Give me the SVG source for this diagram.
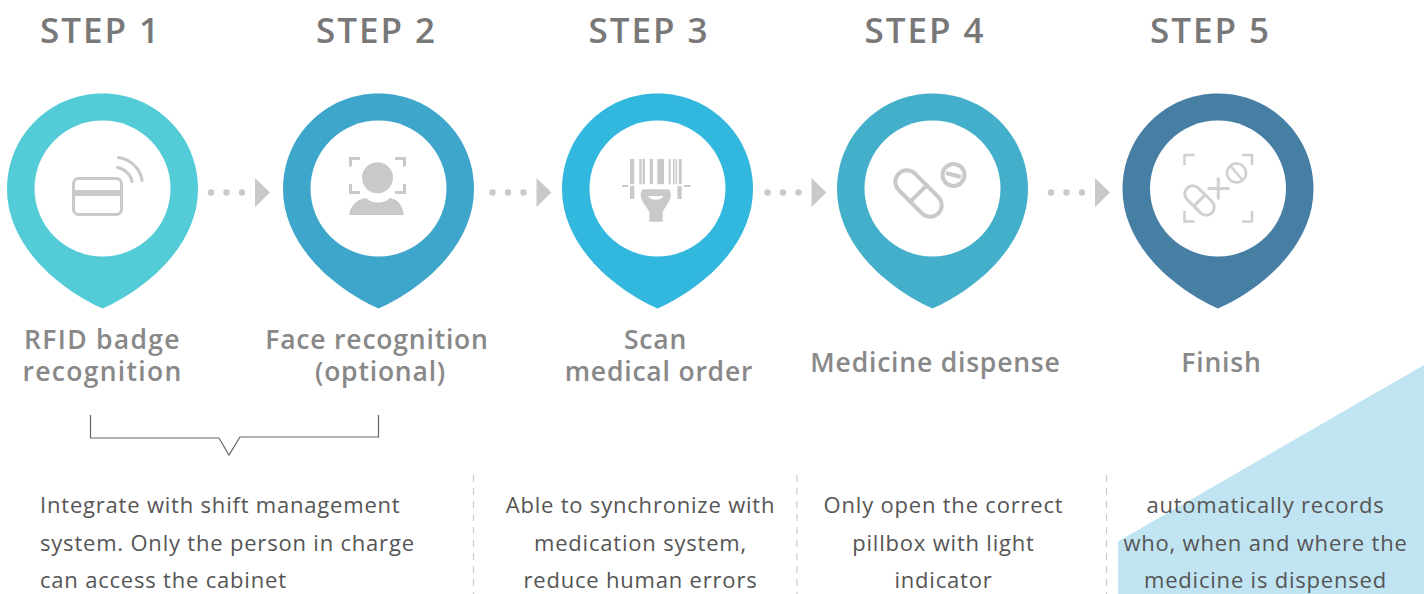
<svg xmlns="http://www.w3.org/2000/svg" width="1424" height="594" viewBox="0 0 1424 594">
<style>
text{font-family:"Open Sans","Noto Sans","Liberation Sans",sans-serif}
.step{font-size:35px;font-weight:600;fill:#787878;letter-spacing:2px;text-anchor:middle}
.lbl{font-size:26.500px;font-weight:600;fill:#888;letter-spacing:.8px;text-anchor:middle}
.wide{letter-spacing:1.300px}
.d{font-size:22px;fill:#555;letter-spacing:.8px}
.m{text-anchor:middle}
.ic{fill:none;stroke:#c9c9c9;stroke-width:3.500}
.w3{stroke-width:3px}
.w4{stroke-width:4px}
.w25{stroke-width:2.500px}
.lt{stroke:#d0d0d0}
.f{fill:#c9c9c9}
.dash{stroke:#ccc;stroke-width:1.200;stroke-dasharray:7 6;fill:none}
</style>
<defs>
<path id="pin" d="M0,-95.500C53,-95.500 95.500,-53 95.500,0C95.500,60 38,103 0,119.500C-38,103 -95.500,60 -95.500,0C-95.500,-53 -53,-95.500 0,-95.500Z"/>
<g id="arrow"><circle cx="0" cy="0" r="3.200"/><circle cx="15.500" cy="0" r="3.200"/><circle cx="31" cy="0" r="3.200"/><path d="M44,-14.500L59,0L44,14.500Z"/></g>
</defs>
<path id="backdrop" d="M1118,541.500L1424,365V594H1118Z" fill="#c1e4f2"/>
<g id="step1">
<text class="step" x="100.500" y="43">STEP 1</text>
<use href="#pin" x="102.500" y="189" fill="#53ccd8"/><circle cx="102.500" cy="188.500" r="68" fill="#fff"/>
<rect class="ic w3" x="73.500" y="178.500" width="48" height="36" rx="5"/><rect class="f" x="72" y="190" width="50" height="6"/>
<path class="ic w3" d="M117.500,167.500C125,169 131,175 132,181.500M118.500,157.500C131,159.500 140.500,169 142,180.500" stroke-linecap="round"/>
<text class="lbl wide" x="102.500" y="349">RFID badge</text><text class="lbl wide" x="102.500" y="381">recognition</text>
</g>
<g id="step2">
<text class="step" x="376.500" y="43">STEP 2</text>
<use href="#pin" x="378.500" y="189" fill="#3ea6ca"/><circle cx="378.500" cy="188.500" r="68" fill="#fff"/>
<path class="ic w3" d="M360,158.500H350.500V166.500M395,158.500H404.500V166.500M350.500,184V192.500H360M404.500,184V192.500H395"/>
<circle class="f" cx="377.500" cy="177.700" r="15.500"/>
<path class="f" d="M349.300,215C350,206 357,199 366,198C372,204 384,204 390,198C398,199 403,206 403.800,215Z"/>
<text class="lbl" x="377" y="349">Face recognition</text><text class="lbl" x="380.500" y="381">(optional)</text>
</g>
<g id="step3">
<text class="step" x="649" y="43">STEP 3</text>
<use href="#pin" x="657.500" y="189" fill="#32b7de"/><circle cx="657.500" cy="188.500" r="68" fill="#fff"/>
<path class="f" d="M630,159h4.300v25.300H630ZM639.300,159h2.200v25.300h-2.200ZM642.500,159h2.500v25.300h-2.500ZM649.700,159h3.300v25.300h-3.300ZM657.300,159h6.700v25.300h-6.700ZM668.700,159h2v25.300h-2ZM673,159h1.500v25.300H673ZM675.500,159h1.500v25.300h-1.500ZM678.700,159h3v25.300h-3ZM622,185h6v2h-6ZM684,185h6.500v2H684ZM630,186h4.300v13H630ZM677.400,186h4.300v13h-4.300Z"/>
<path class="f" d="M644,189.300C641.500,189.300 640.700,192 640.700,195C640.700,201 647,207 649.300,212V221.700H662.700V212C665,207 670.700,201 670.700,195C670.700,192 670,189.300 667.500,189.300Z"/>
<path d="M648,196H663.500C661,201 650.500,201 648,196Z" fill="#fff"/>
<text class="lbl" x="655.500" y="349">Scan</text><text class="lbl" x="659" y="381">medical order</text>
</g>
<g id="step4">
<text class="step" x="925" y="43">STEP 4</text>
<use href="#pin" x="932.500" y="189" fill="#44afca"/><circle cx="932.500" cy="188.500" r="68" fill="#fff"/>
<g transform="translate(918.500,193.500) rotate(45)"><rect class="ic w4" x="-28" y="-11.500" width="56" height="23" rx="11.500"/><path class="ic w4" d="M0,-11.500V11.500"/></g>
<circle class="ic w4" cx="953.500" cy="175" r="11"/><path class="ic w4" d="M946,173L961,177"/>
<text class="lbl" x="935.500" y="372">Medicine dispense</text>
</g>
<g id="step5">
<text class="step" x="1210.500" y="43">STEP 5</text>
<use href="#pin" x="1218" y="189" fill="#467ea4"/><circle cx="1218" cy="188.500" r="68" fill="#fff"/>
<path class="ic w25 lt" d="M1194.500,155H1184.500V165M1242,155H1252V165M1184.500,211V221.500H1194.500M1252,211V221.500H1242"/>
<g transform="translate(1199.500,200.500) rotate(45)"><rect class="ic w3 lt" x="-17.500" y="-8" width="35" height="16" rx="8"/><path class="ic w3 lt" d="M0,-8V8"/></g>
<path class="ic w3 lt" d="M1207.500,188.500H1229.500M1218.300,177.500V199.500"/>
<circle class="ic w25 lt" cx="1236.500" cy="173" r="9.500"/><path class="ic w25 lt" d="M1231,166.500L1242,179.500"/>
<text class="lbl" x="1221.500" y="372">Finish</text>
</g>
<g id="connectors" fill="#c9c9c9">
<use href="#arrow" x="211" y="192.500"/><use href="#arrow" x="492.500" y="192.500"/><use href="#arrow" x="767.500" y="192.500"/><use href="#arrow" x="1051" y="192.500"/>
<path d="M90.500,415V438H219L229,455L240,437H378.500V415" fill="none" stroke="#666" stroke-width="1.200"/>
<path class="dash" d="M473.500,475V594M797,475V594M1106.500,475V594"/>
</g>
<g id="desc1"><text class="d" x="40" y="513">Integrate with shift management</text><text class="d" x="40" y="551">system. Only the person in charge</text><text class="d" x="40" y="588">can access the cabinet</text></g>
<g id="desc2"><text class="d m" x="640.500" y="513">Able to synchronize with</text><text class="d m" x="640.500" y="551">medication system,</text><text class="d m" x="640.500" y="588">reduce human errors</text></g>
<g id="desc3"><text class="d m" x="943.500" y="513">Only open the correct</text><text class="d m" x="943.500" y="551">pillbox with light</text><text class="d m" x="943.500" y="588">indicator</text></g>
<g id="desc4"><text class="d m" x="1265.500" y="513">automatically records</text><text class="d m" x="1265.500" y="551">who, when and where the</text><text class="d m" x="1265.500" y="588">medicine is dispensed</text></g>
</svg>
